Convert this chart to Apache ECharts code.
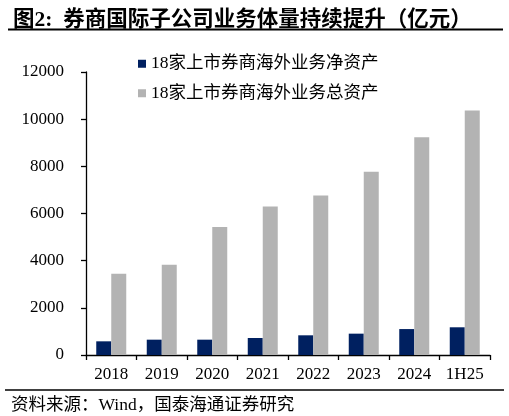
<!DOCTYPE html>
<html>
<head>
<meta charset="utf-8">
<script src="https://cdn.jsdelivr.net/npm/echarts@6/dist/echarts.min.js"></script>
<style>
html,body{margin:0;padding:0;background:#fff;}
#chart{width:509px;height:416px;}
</style>
</head>
<body>
<div id="chart"></div>
<script>
var categories = ['2018','2019','2020','2021','2022','2023','2024','1H25'];
var netAssets = [580, 650, 650, 720, 835, 905, 1100, 1175];
var totalAssets = [3450, 3830, 5425, 6300, 6760, 7770, 9230, 10370];
var seriesNames = ['18家上市券商海外业务净资产', '18家上市券商海外业务总资产'];
var titleText = '图2:  券商国际子公司业务体量持续提升（亿元）';
var sourceText = '资料来源：Wind，国泰海通证券研究';

var FONT = '"Liberation Serif", "Noto Sans CJK SC", serif';
var chart = echarts.init(document.getElementById('chart'), null, {renderer: 'canvas'});
chart.setOption({
  animation: false,
  backgroundColor: '#fff',
  title: [
    {text: titleText, left: 8, top: 5,
     textStyle: {fontFamily: FONT, fontSize: 21.5, fontWeight: 'bold', color: '#000'}},
    {text: sourceText, left: 6, top: 392,
     textStyle: {fontFamily: FONT, fontSize: 17.5, fontWeight: 'normal', color: '#000'}}
  ],
  graphic: [
    {type: 'line', shape: {x1: 8, y1: 29.5, x2: 503, y2: 29.5}, style: {stroke: '#000', lineWidth: 2}},
    {type: 'line', shape: {x1: 5, y1: 390, x2: 504, y2: 390}, style: {stroke: '#000', lineWidth: 1.3}}
  ],
  legend: {
    orient: 'vertical', left: 133, top: 50,
    itemWidth: 8, itemHeight: 8, itemGap: 12,
    icon: 'rect',
    textStyle: {fontFamily: FONT, fontSize: 17.5, color: '#000'},
    data: seriesNames
  },
  grid: {left: 86, right: 19, top: 72, bottom: 61, containLabel: false},
  xAxis: {
    type: 'category', data: categories,
    axisLine: {lineStyle: {color: '#000', width: 1.3}},
    axisTick: {show: true, inside: false, length: 5, lineStyle: {color: '#000', width: 1.3}},
    axisLabel: {fontFamily: FONT, fontSize: 17, color: '#000', margin: 11, interval: 0}
  },
  yAxis: {
    type: 'value', min: 0, max: 12000, interval: 2000,
    splitLine: {show: false},
    axisLine: {show: true, lineStyle: {color: '#000', width: 1.3}},
    axisTick: {show: true, inside: false, length: 5, lineStyle: {color: '#000', width: 1.3}},
    axisLabel: {fontFamily: FONT, fontSize: 17, color: '#000', margin: 22,
      formatter: function (v) { return String(v); }}
  },
  series: [
    {name: seriesNames[0], type: 'bar', data: netAssets, barWidth: 15, barGap: '0%',
     itemStyle: {color: '#002060'}},
    {name: seriesNames[1], type: 'bar', data: totalAssets, barWidth: 15, barGap: '0%',
     itemStyle: {color: '#b3b3b3'}}
  ]
});
</script>
</body>
</html>
